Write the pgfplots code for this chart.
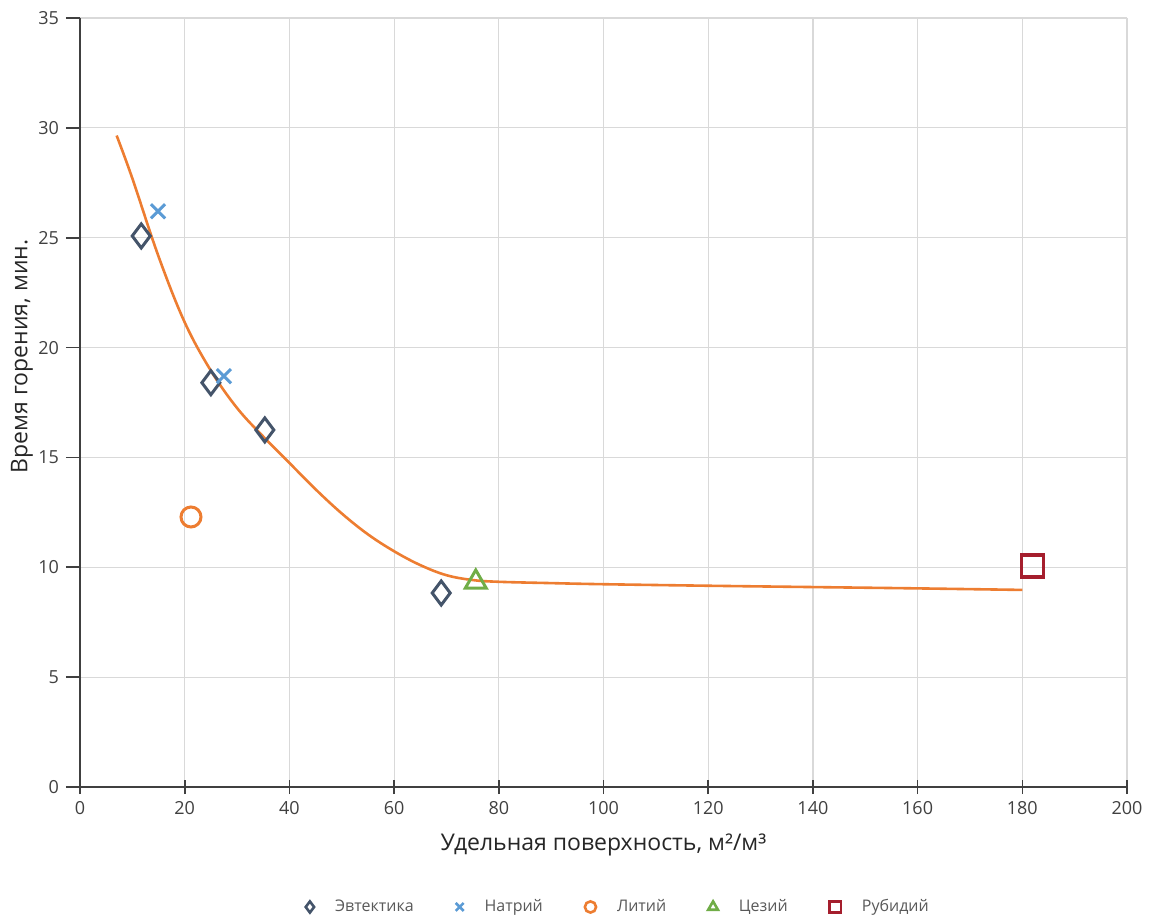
\documentclass[border=0pt]{standalone}
\usepackage{pgfplots}
\pgfplotsset{compat=1.18}
\usepackage{fontspec}
\setmainfont{Open Sans}
\definecolor{cEut}{HTML}{44546A}
\definecolor{cNa}{HTML}{5B9BD5}
\definecolor{cLi}{HTML}{ED7D31}
\definecolor{cCs}{HTML}{70AD47}
\definecolor{cRb}{HTML}{A51E2D}
\definecolor{cGrid}{HTML}{D9D9D9}
\definecolor{cAx}{HTML}{404040}
\begin{document}
\begin{tikzpicture}
\useasboundingbox (-40pt,-65.5pt) rectangle (538.5pt,393.5pt);
\begin{axis}[
  scale only axis,
  width=523.5pt, height=384.5pt,
  xmin=0, xmax=200, ymin=0, ymax=35,
  xtick={0,20,...,200}, ytick={0,5,...,35},
  axis lines*=left,
  axis line style={cAx, line width=0.8pt},
  grid=major,
  major grid style={cGrid, line width=0.6pt},
  xtick align=center, ytick align=outside,
  major tick length=7pt,
  tick style={cAx, line width=0.8pt},
  /pgf/number format/assume math mode=true,
  tick label style={font=\fontsize{9}{10}\selectfont, text=cAx},
  xlabel={Удельная поверхность, м²/м³},
  ylabel={Время горения, мин.},
  label style={font=\fontsize{11.5}{13}\selectfont, text=black!85},
  xlabel style={at={(0.5,-0.0754)}, anchor=center},
  ylabel style={at={(-0.0554,0.56)}, anchor=center},
  legend columns=-1,
  legend style={draw=none, at={(0.515,-0.156)}, anchor=center,
    font=\fontsize{8}{10}\selectfont, text=black!65,
    /tikz/every odd column/.append style={column sep=8.5pt},
    /tikz/every even column/.append style={column sep=19pt}},
  legend image code/.code={\draw[mark size=2.8pt, line width=1.3pt] plot coordinates {(0cm,0cm)};},
]
% trend curve
\addplot[cLi, line width=1.3pt, smooth, tension=0.6, forget plot] coordinates {
(7,29.65) (10,27.7) (15,24.15) (20,21.15) (25,18.95) (30,17.25) (35,15.95)
(40,14.75) (45,13.55) (50,12.45) (55,11.5) (60,10.73) (65,10.1) (70,9.64)
(75,9.42) (80,9.34) (90,9.28) (100,9.23) (120,9.16) (140,9.1) (160,9.04) (180,8.97)};
\addplot[only marks, mark=diamond, mark size=6pt, cEut, line width=1.5pt] coordinates {
(11.7,25.08) (25.0,18.4) (35.3,16.25) (69.0,8.83)};
\addlegendentry{Эвтектика}
\addplot[only marks, mark=x, mark size=5pt, cNa, line width=1.5pt] coordinates {
(14.9,26.2) (27.5,18.7)};
\addlegendentry{Натрий}
\addplot[only marks, mark=o, mark size=5pt, cLi, line width=1.5pt] coordinates {
(21.2,12.29)};
\addlegendentry{Литий}
\addplot[only marks, mark=triangle, mark size=6pt, cCs, line width=1.5pt] coordinates {
(75.6,9.33)};
\addlegendentry{Цезий}
\addplot[only marks, mark=square, mark size=5.5pt, cRb, line width=1.6pt] coordinates {
(181.9,10.06)};
\addlegendentry{Рубидий}
\end{axis}
\end{tikzpicture}
\end{document}
